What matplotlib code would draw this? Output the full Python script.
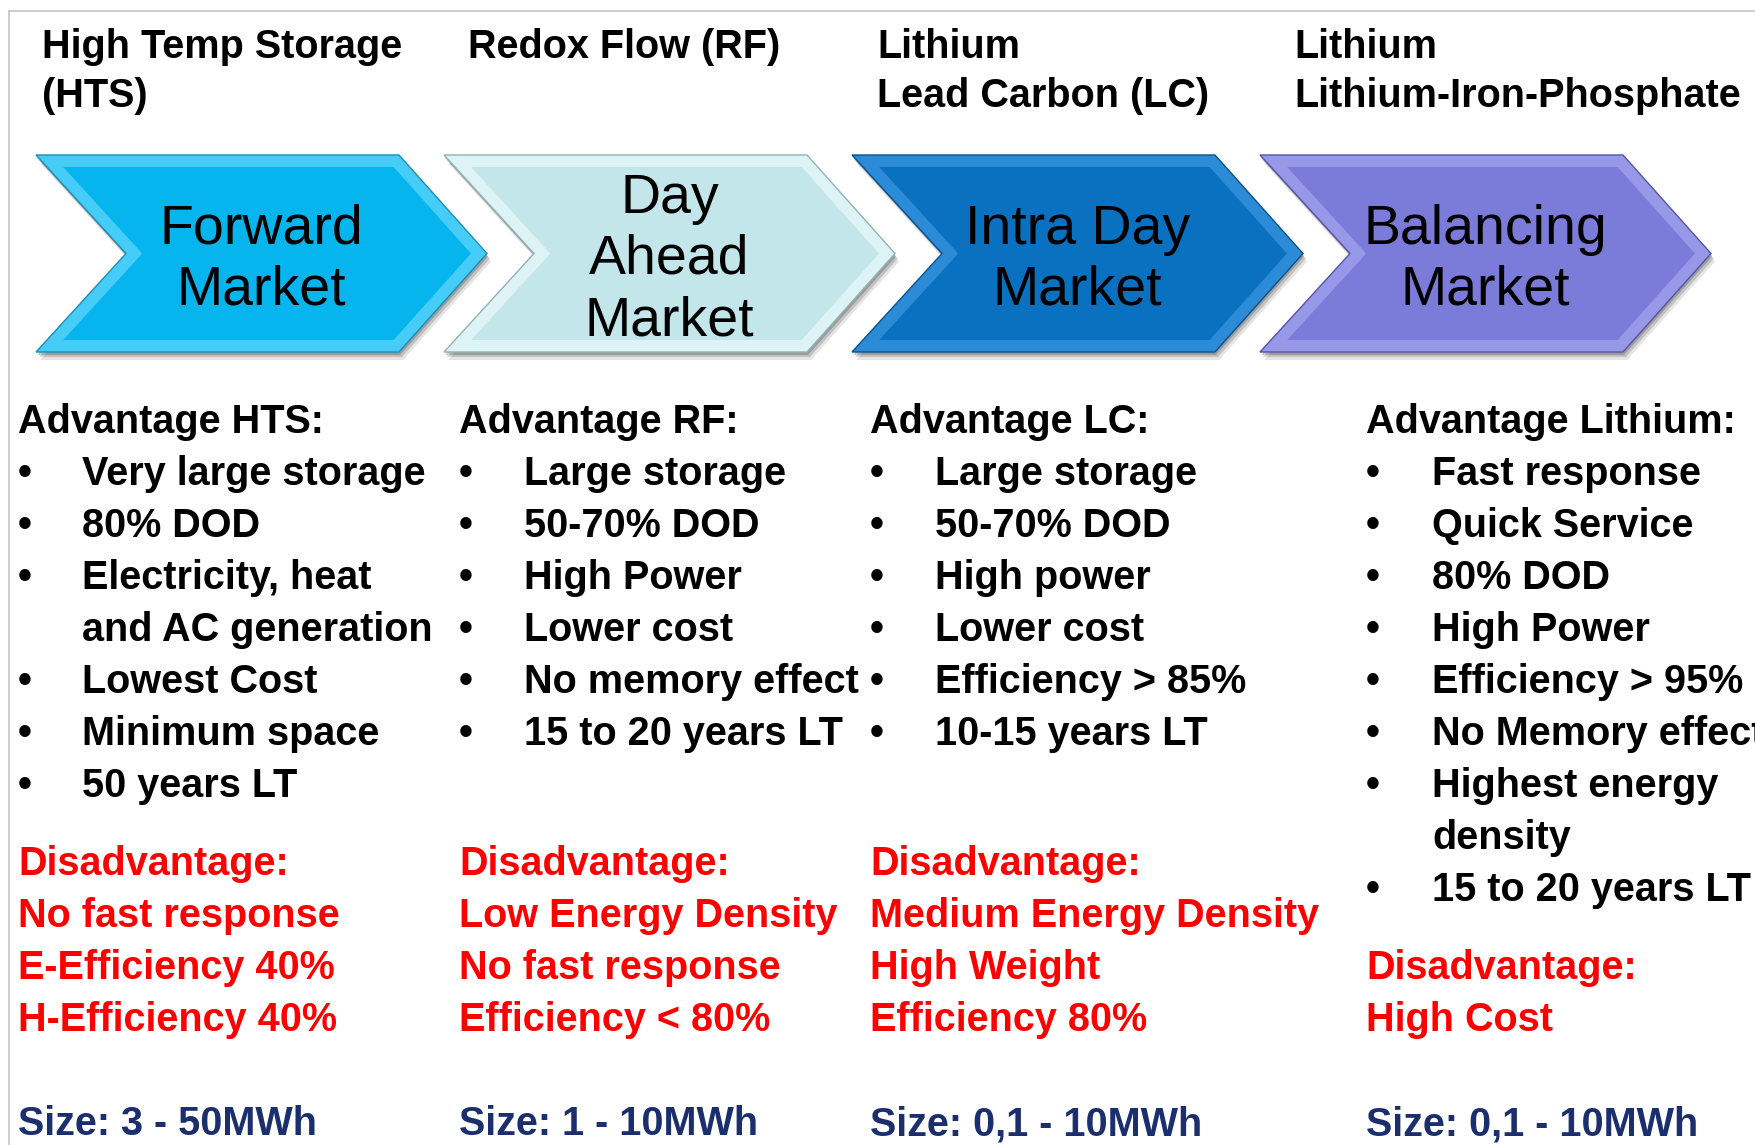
import math
import matplotlib
matplotlib.use("Agg")
import matplotlib.pyplot as plt
from matplotlib.patches import Polygon

plt.rcParams['font.family'] = ['Liberation Sans', 'DejaVu Sans']

# --- Inhalte ---
top_labels = ["High Temp Storage\n(HTS)", "Redox Flow (RF)",
              "Lithium\nLead Carbon (LC)", "Lithium\nLithium-Iron-Phosphate"]
markets = ["Forward\nMarket", "Day\nAhead\nMarket", "Intra Day\nMarket", "Balancing\nMarket"]
adv_titles = ["Advantage HTS:", "Advantage RF:", "Advantage LC:", "Advantage Lithium:"]

adv_hts = ["Very large storage", "80% DOD", "Electricity, heat\nand AC generation",
           "Lowest Cost", "Minimum space", "50 years LT"]
adv_rf = ["Large storage", "50-70% DOD", "High Power", "Lower cost",
          "No memory effect", "15 to 20 years LT"]
adv_lc = ["Large storage", "50-70% DOD", "High power", "Lower cost",
          "Efficiency > 85%", "10-15 years LT"]
adv_li = ["Fast response", "Quick Service", "80% DOD", "High Power", "Efficiency > 95%",
          "No Memory effect", "Highest energy\ndensity", "15 to 20 years LT"]

disadv_hts = ["No fast response", "E-Efficiency 40%", "H-Efficiency 40%"]
disadv_rf = ["Low Energy Density", "No fast response", "Efficiency < 80%"]
disadv_lc = ["Medium Energy Density", "High Weight", "Efficiency 80%"]
disadv_li = ["High Cost"]

sizes = ["Size: 3 - 50MWh", "Size: 1 - 10MWh", "Size: 0,1 - 10MWh", "Size: 0,1 - 10MWh"]

advantages = [adv_hts, adv_rf, adv_lc, adv_li]
disadvantages = [disadv_hts, disadv_rf, disadv_lc, disadv_li]

# Pfeilfarben (Basis, Fase, Kante)
arrow_colors = [("#06B4EE", "#45CDF7", "#1C8DB8"),
                ("#C2E6E9", "#DDF3F5", "#8FB3B7"),
                ("#0A70C0", "#2C8BD6", "#08528E"),
                ("#7B7BD9", "#9898E8", "#5555A8")]

RED = "#FF0000"
NAVY = "#1B2F6E"

# --- Layout ---
W, H = 1756, 1145
head_x = [42, 468, 877, 1294]
col_title_x = [18, 459, 870, 1366]
bullet_x = [25, 466, 877, 1373]
item_x = [82, 524, 935, 1432]
row0, pitch = 418, 52
fs = 28.5


def chevron(x0, top, bot, width, depth, notch, d=0.0):
    mid = (top + bot) / 2
    h = mid - top
    k = math.hypot(depth, h) / h
    kn = math.hypot(notch, h) / h
    return [(x0 + kn * d + notch * d / h, top + d),
            (x0 + width - depth - k * d + depth * d / h, top + d),
            (x0 + width - k * d, mid),
            (x0 + width - depth - k * d + depth * d / h, bot - d),
            (x0 + kn * d + notch * d / h, bot - d),
            (x0 + notch + kn * d, mid)]


fig = plt.figure(figsize=(W / 100, H / 100), dpi=100)
ax = fig.add_axes([0, 0, 1, 1])
ax.set_xlim(0, W)
ax.set_ylim(H, 0)
ax.axis("off")

# Rahmen
ax.plot([9, 9], [11, H], color="#C9C9C9", lw=1.3)
ax.plot([9, W], [11, 11], color="#C9C9C9", lw=1.3)

# Obere Beschriftungen
for i, lab in enumerate(top_labels):
    for j, line in enumerate(lab.split("\n")):
        ax.text(head_x[i], 58 + 49 * j, line, fontsize=fs, fontweight="bold",
                ha="left", va="baseline", color="black")

# Pfeile
top, bot = 155, 352
aw, depth, notch = 451, 88, 90
for i, name in enumerate(markets):
    x0 = 36 + 408 * i
    base, bevel, edge = arrow_colors[i]
    outer = chevron(x0, top, bot, aw, depth, notch)
    for off, a in [((4, 8), 0.10), ((3, 5), 0.15), ((1, 3), 0.2)]:
        sh = [(x + off[0], y + off[1]) for x, y in outer]
        ax.add_patch(Polygon(sh, closed=True, fc="black", ec="none", alpha=a, zorder=1))
    ax.add_patch(Polygon(outer, closed=True, fc=bevel, ec=edge, lw=1.0, zorder=2))
    ax.add_patch(Polygon(chevron(x0, top, bot, aw, depth, notch, d=12), closed=True,
                         fc=base, ec="none", zorder=3))
    lines = name.split("\n")
    cx = x0 + aw / 2
    first = 253 - (len(lines) - 1) * 61 / 2 + 21
    for j, line in enumerate(lines):
        ax.text(cx, first + 61 * j, line, fontsize=40, ha="center", va="baseline",
                color="black", zorder=4)

# Vor- und Nachteile
for i in range(4):
    ax.text(col_title_x[i], row0 + 15, adv_titles[i], fontsize=fs, fontweight="bold",
            ha="left", va="baseline", color="black")
    row = 1
    for item in advantages[i]:
        ax.text(bullet_x[i], row0 + pitch * row + 15, "\u2022", fontsize=fs, fontweight="bold",
                ha="center", va="baseline", color="black")
        for line in item.split("\n"):
            ax.text(item_x[i], row0 + pitch * row + 15, line, fontsize=fs, fontweight="bold",
                    ha="left", va="baseline", color="black")
            row += 1
    drow = max(8.5, row - 1 + 1.5)
    ax.text(col_title_x[i], row0 + pitch * drow + 15, "Disadvantage:", fontsize=fs,
            fontweight="bold", ha="left", va="baseline", color=RED)
    for j, item in enumerate(disadvantages[i]):
        ax.text(col_title_x[i], row0 + pitch * (drow + 1 + j) + 15, item, fontsize=fs,
                fontweight="bold", ha="left", va="baseline", color=RED)
    ax.text(col_title_x[i], row0 + pitch * 13.5 + 15, sizes[i], fontsize=fs,
            fontweight="bold", ha="left", va="baseline", color=NAVY)

fig.savefig("out.png", dpi=100)
